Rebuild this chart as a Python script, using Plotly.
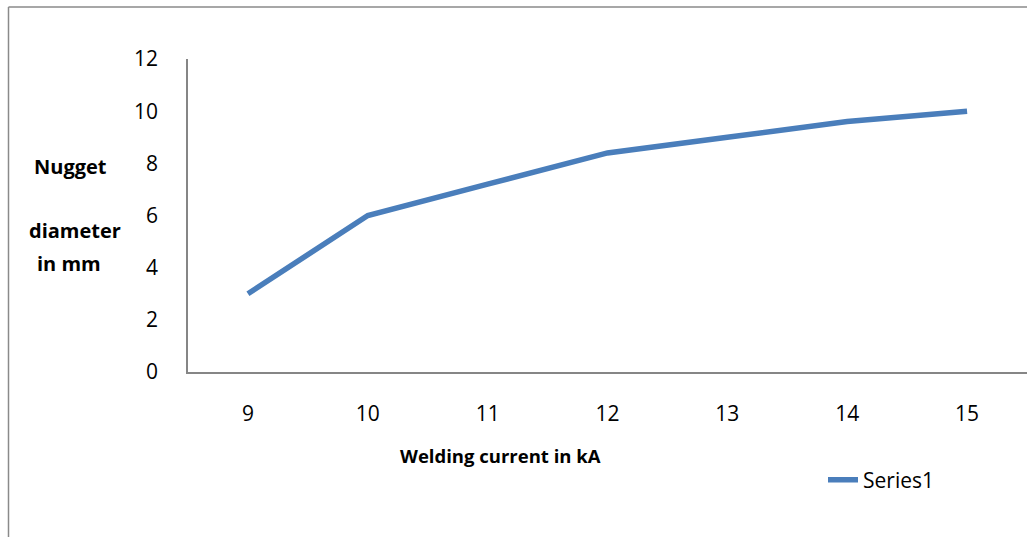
import plotly.graph_objects as go

# Nugget diameter vs welding current
current_ka = ["9", "10", "11", "12", "13", "14", "15"]
nugget_mm = [3, 6, 7.2, 8.4, 9, 9.6, 10]
y_ticks = [0, 2, 4, 6, 8, 10, 12]

W, H = 1027, 537
ML, MR, MT, MB = 188, 0, 59, 165
PW, PH = W - ML - MR, H - MT - MB


def px_x(p):
    return (p - ML) / PW


def px_y(p):
    return 1 - (p - MT) / PH


FONT = "Open Sans"
AXIS = "#868686"

fig = go.Figure()
fig.add_trace(go.Scatter(
    x=current_ka, y=nugget_mm, mode="lines", name="Series1",
    line=dict(color="#4a7ebb", width=5.5),
))

fig.update_layout(
    width=W, height=H,
    margin=dict(l=ML, r=MR, t=MT, b=MB),
    paper_bgcolor="white", plot_bgcolor="white",
    font=dict(family=FONT, color="black", size=21),
    showlegend=True,
    legend=dict(x=px_x(823), y=px_y(480), xanchor="left", yanchor="middle",
                font=dict(family=FONT, size=21), bgcolor="rgba(0,0,0,0)",
                itemwidth=30),
    xaxis=dict(type="category", range=[-0.5, 6.5], showgrid=False,
               showline=True, linecolor=AXIS, linewidth=1.5, ticks="",
               ticklabelstandoff=22, tickfont=dict(size=21), zeroline=False),
    yaxis=dict(range=[0, 12], tickvals=y_ticks, showgrid=False,
               showline=True, linecolor=AXIS, linewidth=1.5, ticks="",
               ticklabelstandoff=24, tickfont=dict(size=21), zeroline=False),
)

# Y-axis title split across lines, and x-axis title
for txt, xc, yc in [("Nugget", 70, 166), ("diameter", 75, 230), ("in mm", 69, 263)]:
    fig.add_annotation(text="<b>%s</b>" % txt, x=px_x(xc), y=px_y(yc),
                       xref="paper", yref="paper", showarrow=False,
                       xanchor="center", yanchor="middle",
                       font=dict(family=FONT, size=20))
fig.add_annotation(text="<b>Welding current in kA</b>", x=px_x(500), y=px_y(455),
                   xref="paper", yref="paper", showarrow=False,
                   xanchor="center", yanchor="middle",
                   font=dict(family=FONT, size=18.5))

# Chart frame (left and top edges)
fig.add_shape(type="line", xref="paper", yref="paper",
              x0=px_x(8.5), x1=px_x(8.5), y0=px_y(7), y1=px_y(540),
              line=dict(color="#8a8a8a", width=1.5))
fig.add_shape(type="line", xref="paper", yref="paper",
              x0=px_x(8.5), x1=px_x(1030), y0=px_y(7), y1=px_y(7),
              line=dict(color="#8a8a8a", width=1.5))

fig.write_html("out.html")
